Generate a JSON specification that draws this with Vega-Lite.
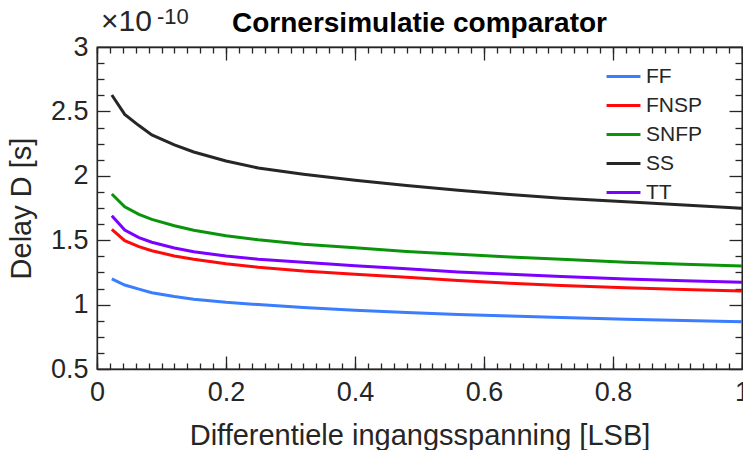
{
  "$schema": "https://vega.github.io/schema/vega-lite/v6.json",
  "width": 645,
  "height": 322,
  "autosize": {"type": "none"},
  "padding": {"left": 97, "top": 47, "right": 1, "bottom": 81},
  "background": "white",
  "config": {"view": {"stroke": "#262626", "strokeWidth": 1.3}},
  "data": {
    "values": [
      {"ingang": 0.023, "corner": "FF", "delay": 1.199},
      {"ingang": 0.043, "corner": "FF", "delay": 1.152},
      {"ingang": 0.065, "corner": "FF", "delay": 1.12},
      {"ingang": 0.085, "corner": "FF", "delay": 1.092},
      {"ingang": 0.12, "corner": "FF", "delay": 1.063},
      {"ingang": 0.15, "corner": "FF", "delay": 1.042},
      {"ingang": 0.2, "corner": "FF", "delay": 1.018},
      {"ingang": 0.25, "corner": "FF", "delay": 1.0},
      {"ingang": 0.32, "corner": "FF", "delay": 0.977},
      {"ingang": 0.4, "corner": "FF", "delay": 0.957},
      {"ingang": 0.48, "corner": "FF", "delay": 0.939},
      {"ingang": 0.56, "corner": "FF", "delay": 0.924},
      {"ingang": 0.64, "corner": "FF", "delay": 0.912},
      {"ingang": 0.72, "corner": "FF", "delay": 0.9},
      {"ingang": 0.82, "corner": "FF", "delay": 0.886},
      {"ingang": 0.91, "corner": "FF", "delay": 0.876},
      {"ingang": 1.0, "corner": "FF", "delay": 0.867},

      {"ingang": 0.023, "corner": "FNSP", "delay": 1.584},
      {"ingang": 0.043, "corner": "FNSP", "delay": 1.496},
      {"ingang": 0.065, "corner": "FNSP", "delay": 1.45},
      {"ingang": 0.085, "corner": "FNSP", "delay": 1.418},
      {"ingang": 0.12, "corner": "FNSP", "delay": 1.378},
      {"ingang": 0.15, "corner": "FNSP", "delay": 1.352},
      {"ingang": 0.2, "corner": "FNSP", "delay": 1.318},
      {"ingang": 0.25, "corner": "FNSP", "delay": 1.29},
      {"ingang": 0.32, "corner": "FNSP", "delay": 1.26},
      {"ingang": 0.4, "corner": "FNSP", "delay": 1.235},
      {"ingang": 0.48, "corner": "FNSP", "delay": 1.213},
      {"ingang": 0.56, "corner": "FNSP", "delay": 1.188},
      {"ingang": 0.64, "corner": "FNSP", "delay": 1.165},
      {"ingang": 0.72, "corner": "FNSP", "delay": 1.148},
      {"ingang": 0.82, "corner": "FNSP", "delay": 1.131},
      {"ingang": 0.91, "corner": "FNSP", "delay": 1.118},
      {"ingang": 1.0, "corner": "FNSP", "delay": 1.106},

      {"ingang": 0.023, "corner": "SNFP", "delay": 1.859},
      {"ingang": 0.043, "corner": "SNFP", "delay": 1.76},
      {"ingang": 0.065, "corner": "SNFP", "delay": 1.7},
      {"ingang": 0.085, "corner": "SNFP", "delay": 1.662},
      {"ingang": 0.12, "corner": "SNFP", "delay": 1.612},
      {"ingang": 0.15, "corner": "SNFP", "delay": 1.578},
      {"ingang": 0.2, "corner": "SNFP", "delay": 1.535},
      {"ingang": 0.25, "corner": "SNFP", "delay": 1.503},
      {"ingang": 0.32, "corner": "SNFP", "delay": 1.468},
      {"ingang": 0.4, "corner": "SNFP", "delay": 1.441},
      {"ingang": 0.48, "corner": "SNFP", "delay": 1.413},
      {"ingang": 0.56, "corner": "SNFP", "delay": 1.39},
      {"ingang": 0.64, "corner": "SNFP", "delay": 1.37},
      {"ingang": 0.72, "corner": "SNFP", "delay": 1.352},
      {"ingang": 0.82, "corner": "SNFP", "delay": 1.328},
      {"ingang": 0.91, "corner": "SNFP", "delay": 1.313},
      {"ingang": 1.0, "corner": "SNFP", "delay": 1.3},

      {"ingang": 0.023, "corner": "SS", "delay": 2.627},
      {"ingang": 0.043, "corner": "SS", "delay": 2.477},
      {"ingang": 0.065, "corner": "SS", "delay": 2.39},
      {"ingang": 0.085, "corner": "SS", "delay": 2.317},
      {"ingang": 0.12, "corner": "SS", "delay": 2.24},
      {"ingang": 0.15, "corner": "SS", "delay": 2.185},
      {"ingang": 0.2, "corner": "SS", "delay": 2.115},
      {"ingang": 0.25, "corner": "SS", "delay": 2.06},
      {"ingang": 0.32, "corner": "SS", "delay": 2.012},
      {"ingang": 0.4, "corner": "SS", "delay": 1.965},
      {"ingang": 0.48, "corner": "SS", "delay": 1.925},
      {"ingang": 0.56, "corner": "SS", "delay": 1.888},
      {"ingang": 0.64, "corner": "SS", "delay": 1.855},
      {"ingang": 0.72, "corner": "SS", "delay": 1.826},
      {"ingang": 0.82, "corner": "SS", "delay": 1.798},
      {"ingang": 0.91, "corner": "SS", "delay": 1.773},
      {"ingang": 1.0, "corner": "SS", "delay": 1.748},

      {"ingang": 0.023, "corner": "TT", "delay": 1.69},
      {"ingang": 0.043, "corner": "TT", "delay": 1.579},
      {"ingang": 0.065, "corner": "TT", "delay": 1.52},
      {"ingang": 0.085, "corner": "TT", "delay": 1.484},
      {"ingang": 0.12, "corner": "TT", "delay": 1.44},
      {"ingang": 0.15, "corner": "TT", "delay": 1.41},
      {"ingang": 0.2, "corner": "TT", "delay": 1.377},
      {"ingang": 0.25, "corner": "TT", "delay": 1.352},
      {"ingang": 0.32, "corner": "TT", "delay": 1.328},
      {"ingang": 0.4, "corner": "TT", "delay": 1.302},
      {"ingang": 0.48, "corner": "TT", "delay": 1.278},
      {"ingang": 0.56, "corner": "TT", "delay": 1.254},
      {"ingang": 0.64, "corner": "TT", "delay": 1.236},
      {"ingang": 0.72, "corner": "TT", "delay": 1.218},
      {"ingang": 0.82, "corner": "TT", "delay": 1.199},
      {"ingang": 0.91, "corner": "TT", "delay": 1.185},
      {"ingang": 1.0, "corner": "TT", "delay": 1.173}
    ]
  },
  "layer": [
    {
      "mark": {"type": "line", "strokeWidth": 3},
      "encoding": {
        "x": {
          "field": "ingang",
          "type": "quantitative",
          "scale": {"domain": [0, 1], "nice": false},
          "axis": {
            "orient": "bottom",
            "title": "Differentiele ingangsspanning [LSB]",
            "tickCount": 5,
            "format": "~g",
            "grid": false,
            "ticks": false,
            "domainColor": "#262626",
            "domainWidth": 1.3,
            "labelColor": "#262626",
            "labelFont": "Liberation Sans",
            "labelFontSize": 27,
            "labelPadding": 10,
            "labelFlush": false,
            "labelOverlap": false,
            "titleColor": "#262626",
            "titleFont": "Liberation Sans",
            "titleFontSize": 29,
            "titleFontWeight": "normal",
            "titlePadding": 16
          }
        },
        "y": {
          "field": "delay",
          "type": "quantitative",
          "scale": {"domain": [0.5, 3], "nice": false},
          "axis": {
            "orient": "left",
            "title": "Delay D [s]",
            "tickCount": 5,
            "format": "~g",
            "grid": false,
            "ticks": false,
            "domainColor": "#262626",
            "domainWidth": 1.3,
            "labelColor": "#262626",
            "labelFont": "Liberation Sans",
            "labelFontSize": 27,
            "labelPadding": 9,
            "labelFlush": false,
            "labelOverlap": false,
            "titleColor": "#262626",
            "titleFont": "Liberation Sans",
            "titleFontSize": 29,
            "titleFontWeight": "normal",
            "titlePadding": 14
          }
        },
        "color": {
          "field": "corner",
          "type": "nominal",
          "scale": {
            "domain": ["FF", "FNSP", "SNFP", "SS", "TT"],
            "range": ["#3a7dff", "#ff0a0a", "#0a940a", "#262626", "#7c00ff"]
          },
          "legend": {
            "orient": "none",
            "legendX": 508,
            "legendY": 11,
            "title": null,
            "symbolType": "stroke",
            "symbolSize": 1150,
            "symbolStrokeWidth": 3,
            "labelFont": "Liberation Sans",
            "labelFontSize": 21,
            "labelColor": "#262626",
            "labelOffset": 4,
            "rowPadding": -12,
            "padding": 0
          }
        }
      }
    },
    {
      "mark": {"type": "line", "opacity": 0},
      "encoding": {
        "detail": {"field": "corner", "type": "nominal"},
        "x": {
          "field": "ingang",
          "type": "quantitative",
          "scale": {"domain": [0, 1], "nice": false},
          "axis": {"orient": "top", "offset": -322, "title": null, "labels": false, "domain": false, "grid": false, "tickCount": 5, "tickSize": 13, "tickColor": "#262626", "tickWidth": 1.3}
        },
        "y": {
          "field": "delay",
          "type": "quantitative",
          "scale": {"domain": [0.5, 3], "nice": false},
          "axis": {"orient": "right", "offset": -645, "title": null, "labels": false, "domain": false, "grid": false, "tickCount": 5, "tickSize": 13, "tickColor": "#262626", "tickWidth": 1.3}
        }
      }
    },
    {
      "mark": {"type": "line", "opacity": 0},
      "encoding": {
        "detail": {"field": "corner", "type": "nominal"},
        "x": {
          "field": "ingang",
          "type": "quantitative",
          "scale": {"domain": [0, 1], "nice": false},
          "axis": {"orient": "top", "offset": -322, "title": null, "labels": false, "domain": false, "grid": false, "tickCount": 50, "tickSize": 6, "tickColor": "#262626", "tickWidth": 1.3}
        },
        "y": {
          "field": "delay",
          "type": "quantitative",
          "scale": {"domain": [0.5, 3], "nice": false},
          "axis": {"orient": "right", "offset": -645, "title": null, "labels": false, "domain": false, "grid": false, "values": [0.625, 0.75, 0.875, 1.125, 1.25, 1.375, 1.625, 1.75, 1.875, 2.125, 2.25, 2.375, 2.625, 2.75, 2.875], "tickSize": 7, "tickColor": "#262626", "tickWidth": 1.3}
        }
      }
    },
    {
      "mark": {"type": "line", "opacity": 0},
      "encoding": {
        "detail": {"field": "corner", "type": "nominal"},
        "x": {
          "field": "ingang",
          "type": "quantitative",
          "scale": {"domain": [0, 1], "nice": false},
          "axis": {"orient": "bottom", "offset": -322, "title": null, "labels": false, "domain": true, "domainColor": "#262626", "domainWidth": 1.3, "grid": false, "tickCount": 5, "tickSize": 13, "tickColor": "#262626", "tickWidth": 1.3}
        },
        "y": {
          "field": "delay",
          "type": "quantitative",
          "scale": {"domain": [0.5, 3], "nice": false},
          "axis": {"orient": "left", "offset": -645, "title": null, "labels": false, "domain": true, "domainColor": "#262626", "domainWidth": 1.3, "grid": false, "tickCount": 5, "tickSize": 13, "tickColor": "#262626", "tickWidth": 1.3}
        }
      }
    },
    {
      "mark": {"type": "line", "opacity": 0},
      "encoding": {
        "detail": {"field": "corner", "type": "nominal"},
        "x": {
          "field": "ingang",
          "type": "quantitative",
          "scale": {"domain": [0, 1], "nice": false},
          "axis": {"orient": "bottom", "offset": -322, "title": null, "labels": false, "domain": false, "grid": false, "tickCount": 50, "tickSize": 6, "tickColor": "#262626", "tickWidth": 1.3}
        },
        "y": {
          "field": "delay",
          "type": "quantitative",
          "scale": {"domain": [0.5, 3], "nice": false},
          "axis": {"orient": "left", "offset": -645, "title": null, "labels": false, "domain": false, "grid": false, "values": [0.625, 0.75, 0.875, 1.125, 1.25, 1.375, 1.625, 1.75, 1.875, 2.125, 2.25, 2.375, 2.625, 2.75, 2.875], "tickSize": 7, "tickColor": "#262626", "tickWidth": 1.3}
        }
      }
    },
    {
      "data": {"values": [{"t": "Cornersimulatie comparator"}]},
      "mark": {"type": "text", "align": "center", "baseline": "alphabetic", "dy": -15, "fontSize": 28, "fontWeight": "bold", "font": "Liberation Sans", "color": "black"},
      "encoding": {
        "x": {"datum": 0.5, "type": "quantitative", "axis": null},
        "y": {"datum": 3, "type": "quantitative", "axis": null},
        "text": {"field": "t"}
      }
    },
    {
      "data": {"values": [{"t": "×10"}]},
      "mark": {"type": "text", "align": "left", "baseline": "alphabetic", "dx": 4, "dy": -16, "fontSize": 30, "font": "Liberation Sans", "color": "#262626"},
      "encoding": {
        "x": {"datum": 0, "type": "quantitative", "axis": null},
        "y": {"datum": 3, "type": "quantitative", "axis": null},
        "text": {"field": "t"}
      }
    },
    {
      "data": {"values": [{"t": "-10"}]},
      "mark": {"type": "text", "align": "left", "baseline": "alphabetic", "dx": 60, "dy": -23, "fontSize": 22, "font": "Liberation Sans", "color": "#262626"},
      "encoding": {
        "x": {"datum": 0, "type": "quantitative", "axis": null},
        "y": {"datum": 3, "type": "quantitative", "axis": null},
        "text": {"field": "t"}
      }
    }
  ],
  "resolve": {"axis": {"x": "independent", "y": "independent"}}
}
